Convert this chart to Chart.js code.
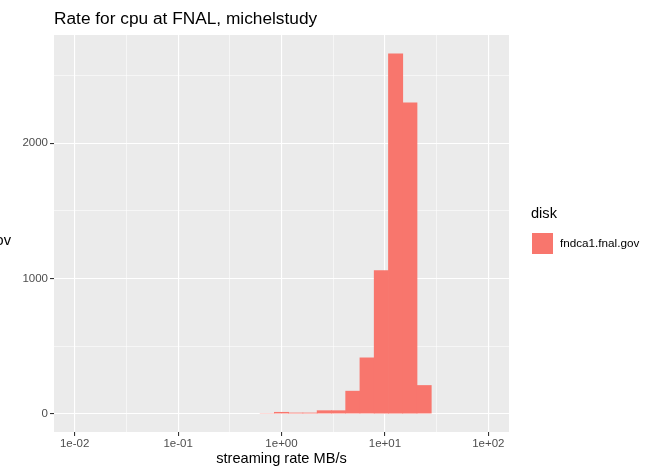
<!DOCTYPE html>
<html>
<head>
<meta charset="utf-8">
<script src="https://cdn.jsdelivr.net/npm/chart.js@4.4.1/dist/chart.umd.min.js"></script>
<style>
  html, body { margin: 0; padding: 0; background: #fff; }
  canvas { display: block; }
</style>
</head>
<body>
<canvas id="rate-hist" width="652" height="466"></canvas>
<script>
// histogram bins (bin centre in MB/s, equal width in log10) and counts
var binCenters = [0.7279, 1.0, 1.3738, 1.8873, 2.5928, 3.562, 4.8935, 6.7233, 9.2367, 12.690, 17.433, 23.951];
var binCounts = [6, 15, 10, 10, 27, 27, 171, 417, 1061, 2662, 2300, 213];
var seriesName = 'fndca1.fnal.gov';

var xTickValues = [0.01, 0.1, 1, 10, 100];
var xTickLabels = ['1e-02', '1e-01', '1e+00', '1e+01', '1e+02'];
var xMinorValues = [0.03162, 0.3162, 3.162, 31.62];
var yTickValues = [0, 1000, 2000];
var yTickLabels = ['0', '1000', '2000'];
var yMinorValues = [500, 1500, 2500];

var FONT = '"Liberation Sans", Arial, Helvetica, sans-serif';
var BAR = '#F8766D';

function isMajor(list, v) {
  for (var i = 0; i < list.length; i++) {
    if (Math.abs(list[i] - v) / Math.max(Math.abs(list[i]), 1e-9) < 1e-6) return i;
  }
  return -1;
}

// panel background, title, axis title and legend
var decorations = {
  id: 'decorations',
  beforeDraw: function (chart) {
    var c = chart.ctx, a = chart.chartArea;
    c.save();
    c.fillStyle = '#EBEBEB';
    c.fillRect(a.left, a.top, a.right - a.left, a.bottom - a.top);
    c.restore();
  },
  afterDraw: function (chart) {
    var c = chart.ctx, a = chart.chartArea;
    c.save();
    c.fillStyle = '#000';
    c.textBaseline = 'alphabetic';
    c.textAlign = 'left';
    c.font = '17.3px ' + FONT;
    c.fillText('Rate for cpu at FNAL, michelstudy', a.left, 24);

    c.textAlign = 'center';
    c.font = '14.6px ' + FONT;
    c.fillText('streaming rate MB/s', (a.left + a.right) / 2, 463);

    c.textAlign = 'right';
    c.textBaseline = 'middle';
    c.fillText('ov', 11, 241);

    // legend
    c.textAlign = 'left';
    c.fillText('disk', 531, 214);
    c.fillStyle = BAR;
    c.fillRect(532, 233, 21, 21);
    c.fillStyle = '#000';
    c.font = '11.7px ' + FONT;
    c.fillText(seriesName, 560, 244);
    c.restore();
  }
};

var xTicksAll = xTickValues.concat(xMinorValues).sort(function (p, q) { return p - q; });
var yTicksAll = yTickValues.concat(yMinorValues).sort(function (p, q) { return p - q; });

new Chart(document.getElementById('rate-hist').getContext('2d'), {
  type: 'bar',
  data: {
    datasets: [{
      label: seriesName,
      data: binCenters.map(function (x, i) { return { x: x, y: binCounts[i] }; }),
      backgroundColor: BAR,
      borderWidth: 0,
      barPercentage: 1.05,
      categoryPercentage: 1
    }]
  },
  options: {
    responsive: false,
    animation: false,
    layout: { padding: { left: 0, top: 35, right: 143, bottom: 0 } },
    plugins: { legend: { display: false }, tooltip: { enabled: false }, title: { display: false } },
    scales: {
      x: {
        type: 'logarithmic',
        bounds: 'data',
        offset: false,
        min: Math.pow(10, -2.2),
        max: Math.pow(10, 2.2),
        border: { display: false },
        afterBuildTicks: function (s) {
          s.ticks = xTicksAll.map(function (v) { return { value: v }; });
        },
        afterFit: function (s) { s.height = 34; },
        grid: {
          offset: false,
          color: '#FFFFFF',
          lineWidth: function (ctx) { return isMajor(xTickValues, ctx.tick.value) >= 0 ? 1.1 : 0.55; },
          tickLength: 4,
          tickWidth: 1.1,
          tickColor: function (ctx) { return isMajor(xTickValues, ctx.tick.value) >= 0 ? '#333333' : 'rgba(0,0,0,0)'; }
        },
        ticks: {
          autoSkip: false,
          maxRotation: 0,
          padding: 1,
          color: '#4D4D4D',
          font: { family: FONT, size: 11.5 },
          callback: function (v) {
            var i = isMajor(xTickValues, v);
            return i >= 0 ? xTickLabels[i] : '';
          }
        }
      },
      y: {
        type: 'linear',
        bounds: 'data',
        min: -133,
        max: 2798,
        border: { display: false },
        afterBuildTicks: function (s) {
          s.ticks = yTicksAll.map(function (v) { return { value: v }; });
        },
        afterFit: function (s) { s.width = 54; },
        grid: {
          color: '#FFFFFF',
          lineWidth: function (ctx) { return isMajor(yTickValues, ctx.tick.value) >= 0 ? 1.1 : 0.55; },
          tickLength: 4,
          tickWidth: 1.1,
          tickColor: function (ctx) { return isMajor(yTickValues, ctx.tick.value) >= 0 ? '#333333' : 'rgba(0,0,0,0)'; }
        },
        ticks: {
          autoSkip: false,
          padding: 2,
          color: '#4D4D4D',
          font: { family: FONT, size: 11.5 },
          callback: function (v) {
            var i = isMajor(yTickValues, v);
            return i >= 0 ? yTickLabels[i] : '';
          }
        }
      }
    }
  },
  plugins: [decorations]
});
</script>
</body>
</html>
